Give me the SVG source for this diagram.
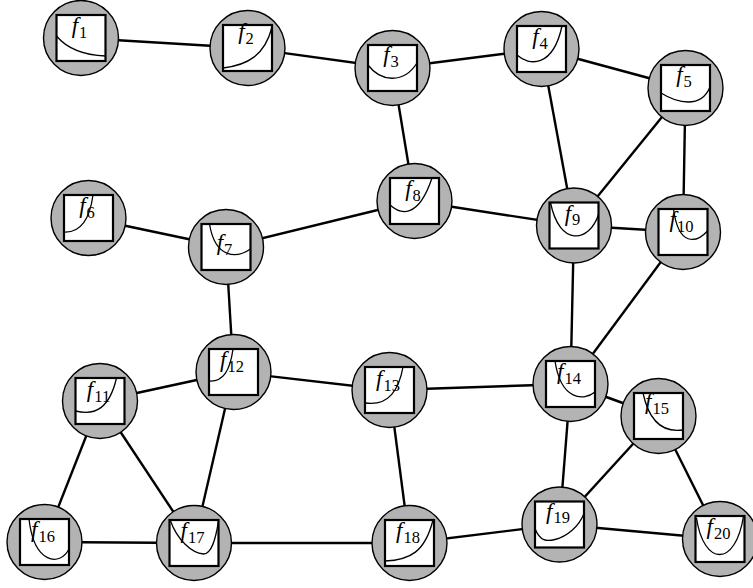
<svg xmlns="http://www.w3.org/2000/svg" width="753" height="588" viewBox="0 0 753 588">
<style>
.bg{fill:#fff}
.e line{stroke:#000;stroke-width:2.4}
.n circle{fill:#b3b3b3;stroke:#000;stroke-width:1.4}
.n rect{fill:#fff;stroke:#000;stroke-width:2.2}
.n path{fill:none;stroke:#000;stroke-width:1.3}
.n text{font-family:"Liberation Serif","DejaVu Serif",serif;text-anchor:middle}
.f{font-style:italic;font-size:23px}
.s{font-size:16.5px}
</style>
<rect class="bg" width="753" height="588"/>
<g id="connectors" class="e">
<line x1="81" y1="38" x2="247.5" y2="48"/>
<line x1="247.5" y1="48" x2="392.5" y2="68"/>
<line x1="392.5" y1="68" x2="541.5" y2="49"/>
<line x1="541.5" y1="49" x2="685.5" y2="88"/>
<line x1="392.5" y1="68" x2="414.5" y2="201"/>
<line x1="541.5" y1="49" x2="574" y2="225.5"/>
<line x1="685.5" y1="88" x2="574" y2="225.5"/>
<line x1="685.5" y1="88" x2="683" y2="232"/>
<line x1="88.5" y1="218" x2="226" y2="247"/>
<line x1="226" y1="247" x2="414.5" y2="201"/>
<line x1="414.5" y1="201" x2="574" y2="225.5"/>
<line x1="574" y1="225.5" x2="683" y2="232"/>
<line x1="226" y1="247" x2="233.5" y2="372"/>
<line x1="574" y1="225.5" x2="570.5" y2="384"/>
<line x1="683" y1="232" x2="570.5" y2="384"/>
<line x1="100" y1="401" x2="233.5" y2="372"/>
<line x1="233.5" y1="372" x2="389.5" y2="390"/>
<line x1="389.5" y1="390" x2="570.5" y2="384"/>
<line x1="570.5" y1="384" x2="658.5" y2="416"/>
<line x1="100" y1="401" x2="44.5" y2="542"/>
<line x1="100" y1="401" x2="194" y2="543"/>
<line x1="233.5" y1="372" x2="194" y2="543"/>
<line x1="389.5" y1="390" x2="409.5" y2="543"/>
<line x1="570.5" y1="384" x2="559.5" y2="524.5"/>
<line x1="658.5" y1="416" x2="559.5" y2="524.5"/>
<line x1="658.5" y1="416" x2="720" y2="539"/>
<line x1="44.5" y1="542" x2="194" y2="543"/>
<line x1="194" y1="543" x2="409.5" y2="543"/>
<line x1="409.5" y1="543" x2="559.5" y2="524.5"/>
<line x1="559.5" y1="524.5" x2="720" y2="539"/>
</g>
<g id="n1" class="n" transform="translate(81,38)"><circle r="37.5"/><rect x="-24.5" y="-23" width="49" height="46"/><path transform="translate(-24.5,-23)" d="M0,21 C10,33 25,40 49,41"/><text x="-1.5" y="-5"><tspan class="f">f</tspan><tspan class="s" dx="1" dy="4.5">1</tspan></text></g>
<g id="n2" class="n" transform="translate(247.5,48)"><circle r="37.5"/><rect x="-24.5" y="-23" width="49" height="46"/><path transform="translate(-24.5,-23)" d="M0,43 C25,40 42,30 49,2"/><text x="-1.5" y="-9"><tspan class="f">f</tspan><tspan class="s" dx="1" dy="4.5">2</tspan></text></g>
<g id="n3" class="n" transform="translate(392.5,68)"><circle r="37.5"/><rect x="-24.5" y="-23" width="49" height="46"/><path transform="translate(-24.5,-23)" d="M0,20 C12,36 35,40 49,18"/><text x="-1.5" y="-6"><tspan class="f">f</tspan><tspan class="s" dx="1" dy="4.5">3</tspan></text></g>
<g id="n4" class="n" transform="translate(541.5,49)"><circle r="37.5"/><rect x="-24.5" y="-23" width="49" height="46"/><path transform="translate(-24.5,-23)" d="M0,29 C12,40 36,42 45,0"/><text x="-1.5" y="-5"><tspan class="f">f</tspan><tspan class="s" dx="1" dy="4.5">4</tspan></text></g>
<g id="n5" class="n" transform="translate(685.5,88)"><circle r="37.5"/><rect x="-24.5" y="-23" width="49" height="46"/><path transform="translate(-24.5,-23)" d="M0,28 C16,38 40,44 49,22"/><text x="-1.5" y="-6"><tspan class="f">f</tspan><tspan class="s" dx="1" dy="4.5">5</tspan></text></g>
<g id="n6" class="n" transform="translate(88.5,218)"><circle r="37.5"/><rect x="-24.5" y="-23" width="49" height="46"/><path transform="translate(-24.5,-23)" d="M0,37 C18,38 26,22 29,0"/><text x="-1.5" y="-5"><tspan class="f">f</tspan><tspan class="s" dx="1" dy="4.5">6</tspan></text></g>
<g id="n7" class="n" transform="translate(226,247)"><circle r="37.5"/><rect x="-24.5" y="-23" width="49" height="46"/><path transform="translate(-24.5,-23)" d="M8,0 C14,36 36,34 49,25"/><text x="-1.5" y="3"><tspan class="f">f</tspan><tspan class="s" dx="1" dy="4.5">7</tspan></text></g>
<g id="n8" class="n" transform="translate(414.5,201)"><circle r="37.5"/><rect x="-24.5" y="-23" width="49" height="46"/><path transform="translate(-24.5,-23)" d="M0,27 C10,36 28,42 42,0"/><text x="-1.5" y="-5"><tspan class="f">f</tspan><tspan class="s" dx="1" dy="4.5">8</tspan></text></g>
<g id="n9" class="n" transform="translate(574,225.5)"><circle r="37.5"/><rect x="-24.5" y="-23" width="49" height="46"/><path transform="translate(-24.5,-23)" d="M1,0 C10,45 40,40 49,12"/><text x="-1.5" y="-5"><tspan class="f">f</tspan><tspan class="s" dx="1" dy="4.5">9</tspan></text></g>
<g id="n10" class="n" transform="translate(683,232)"><circle r="37.5"/><rect x="-24.5" y="-23" width="49" height="46"/><path transform="translate(-24.5,-23)" d="M15,0 C20,38 38,34 49,22"/><text x="-1.5" y="-5"><tspan class="f">f</tspan><tspan class="s" dx="1" dy="4.5">10</tspan></text></g>
<g id="n11" class="n" transform="translate(100,401)"><circle r="37.5"/><rect x="-24.5" y="-23" width="49" height="46"/><path transform="translate(-24.5,-23)" d="M0,33 C20,38 34,30 41,0"/><text x="-1.5" y="-4"><tspan class="f">f</tspan><tspan class="s" dx="1" dy="4.5">11</tspan></text></g>
<g id="n12" class="n" transform="translate(233.5,372)"><circle r="37.5"/><rect x="-24.5" y="-23" width="49" height="46"/><path transform="translate(-24.5,-23)" d="M0,32 C14,33 21,22 24,0"/><text x="-1.5" y="-5"><tspan class="f">f</tspan><tspan class="s" dx="1" dy="4.5">12</tspan></text></g>
<g id="n13" class="n" transform="translate(389.5,390)"><circle r="37.5"/><rect x="-24.5" y="-23" width="49" height="46"/><path transform="translate(-24.5,-23)" d="M0,36 C20,39 33,28 38,0"/><text x="-1.5" y="-4"><tspan class="f">f</tspan><tspan class="s" dx="1" dy="4.5">13</tspan></text></g>
<g id="n14" class="n" transform="translate(570.5,384)"><circle r="37.5"/><rect x="-24.5" y="-23" width="49" height="46"/><path transform="translate(-24.5,-23)" d="M9,0 C15,40 38,40 49,31"/><text x="-1.5" y="-5"><tspan class="f">f</tspan><tspan class="s" dx="1" dy="4.5">14</tspan></text></g>
<g id="n15" class="n" transform="translate(658.5,416)"><circle r="37.5"/><rect x="-24.5" y="-23" width="49" height="46"/><path transform="translate(-24.5,-23)" d="M9,0 C15,28 28,40 49,37"/><text x="-1.5" y="-7"><tspan class="f">f</tspan><tspan class="s" dx="1" dy="4.5">15</tspan></text></g>
<g id="n16" class="n" transform="translate(44.5,542)"><circle r="37.5"/><rect x="-24.5" y="-23" width="49" height="46"/><path transform="translate(-24.5,-23)" d="M9,0 C14,45 40,48 49,30"/><text x="-1.5" y="-5"><tspan class="f">f</tspan><tspan class="s" dx="1" dy="4.5">16</tspan></text></g>
<g id="n17" class="n" transform="translate(194,543)"><circle r="37.5"/><rect x="-24.5" y="-23" width="49" height="46"/><path transform="translate(-24.5,-23)" d="M1,1 C8,20 22,33 34,34 C42,34 46,20 49,1"/><text x="-1.5" y="-5"><tspan class="f">f</tspan><tspan class="s" dx="1" dy="4.5">17</tspan></text></g>
<g id="n18" class="n" transform="translate(409.5,543)"><circle r="37.5"/><rect x="-24.5" y="-23" width="49" height="46"/><path transform="translate(-24.5,-23)" d="M0,41 C25,40 40,32 48,0"/><text x="-1.5" y="-5"><tspan class="f">f</tspan><tspan class="s" dx="1" dy="4.5">18</tspan></text></g>
<g id="n19" class="n" transform="translate(559.5,524.5)"><circle r="37.5"/><rect x="-24.5" y="-23" width="49" height="46"/><path transform="translate(-24.5,-23)" d="M0,27 C5,40 12,40 20,38 C32,35 44,25 49,12"/><text x="-1.5" y="-6"><tspan class="f">f</tspan><tspan class="s" dx="1" dy="4.5">19</tspan></text></g>
<g id="n20" class="n" transform="translate(720,539)"><circle r="37.5"/><rect x="-24.5" y="-23" width="49" height="46"/><path transform="translate(-24.5,-23)" d="M1,2 C8,50 40,52 48,0"/><text x="-1.5" y="-5"><tspan class="f">f</tspan><tspan class="s" dx="1" dy="4.5">20</tspan></text></g>
</svg>
